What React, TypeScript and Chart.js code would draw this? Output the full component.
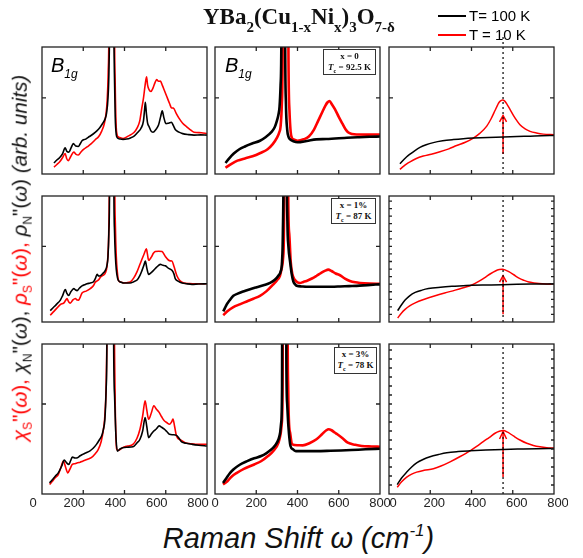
import React, { useEffect, useRef } from "react";
import { Chart, registerables } from "chart.js";

Chart.register(...registerables);

type Pt = [number, number];

// ---------- data (x: Raman shift in cm^-1, y: intensity in % of panel height) ----------
const r1c1Black: Pt[] = [[58, 8.7], [72, 11], [85, 12.8], [100, 16], [112, 20.6], [120, 18], [130, 17.2], [142, 21], [152, 23.9], [164, 22], [176, 21.7], [186, 24], [194, 26.2], [212, 27.5], [230, 29.5], [248, 31.5], [266, 34], [280, 36.5], [293, 39.6], [305, 43], [313, 48], [320, 60], [325, 85], [329, 150], [333, 400], [343, 400], [347, 150], [351, 80], [355, 45], [360, 31], [366, 28.4], [380, 27.5], [393, 27.3], [410, 27.5], [429, 28.4], [448, 30], [465, 32.9], [480, 36], [492, 41.8], [497, 50], [501, 56.4], [506, 48], [512, 40], [519, 37.4], [528, 34], [538, 32.9], [552, 35], [565, 38.5], [575, 45], [583, 49.7], [590, 45], [601, 39.6], [614, 40], [628, 40.7], [637, 38], [646, 35.1], [664, 33], [682, 31.8], [710, 31], [737, 30.6], [770, 30.8], [800, 30.6]];
const r1c1Red: Pt[] = [[58, 5.4], [72, 7.5], [85, 9.4], [100, 13], [112, 16.1], [120, 12], [127, 10.5], [140, 14], [154, 17.2], [165, 15.5], [176, 15], [190, 17.5], [203, 19.5], [220, 21.5], [239, 23.9], [258, 27], [275, 29.5], [290, 34], [302, 39.6], [310, 47], [316, 58], [321, 80], [325, 130], [329, 400], [347, 400], [351, 130], [355, 70], [359, 40], [364, 31], [368, 29.5], [380, 28.5], [393, 28], [420, 30], [447, 32.9], [462, 36.5], [474, 41.8], [484, 52], [492, 59.7], [500, 70], [507, 76.5], [512, 70], [519, 66.4], [528, 65], [538, 67.6], [548, 72], [556, 74.3], [565, 73], [574, 73.2], [583, 70], [592, 66.4], [605, 61], [619, 55.3], [628, 52], [637, 51.9], [650, 48], [664, 44], [682, 40], [700, 37.4], [718, 35], [737, 32.9], [773, 32.5], [800, 31.8]];

const r1c2Black: Pt[] = [[51, 8.7], [70, 12.5], [91, 16.1], [118, 19.5], [145, 21.7], [180, 24], [218, 26.2], [245, 29], [273, 32.9], [290, 37], [300, 41.8], [308, 47], [313, 53], [318, 70], [322, 110], [326, 400], [336, 400], [340, 110], [344, 55], [350, 35], [357, 29], [364, 27.3], [380, 25.8], [400, 25], [445, 26], [491, 27.3], [540, 27.5], [582, 28], [640, 28.5], [691, 28.9], [750, 29.3], [800, 29.5]];
const r1c2Red: Pt[] = [[51, 4.9], [80, 8], [109, 10.5], [145, 12.3], [182, 13.9], [220, 16.5], [255, 19.5], [280, 23.5], [300, 28.4], [312, 33], [318, 37.4], [324, 55], [328, 100], [332, 400], [352, 400], [356, 100], [361, 50], [367, 33], [373, 28.4], [385, 27], [400, 26.2], [430, 27.3], [455, 29.5], [480, 35], [500, 41.8], [518, 48], [536, 54.1], [546, 56.5], [555, 57.5], [568, 54.5], [582, 50.8], [600, 45], [618, 39.6], [632, 35.5], [645, 32.9], [665, 31.5], [691, 31.1], [740, 31], [800, 31.1]];

const r1c3Black: Pt[] = [[53, 8], [70, 11], [86, 13.6], [102, 15.7], [126, 18.5], [150, 20.9], [180, 23], [215, 24.7], [260, 26.1], [312, 27.1], [360, 27.8], [409, 28.3], [480, 28.8], [554, 29.1], [620, 29.5], [684, 29.8], [740, 30.1], [800, 30.3]];
const r1c3Red: Pt[] = [[53, 3.6], [70, 6], [86, 8], [102, 9.6], [130, 12], [166, 14.1], [205, 15.6], [247, 17.5], [290, 19.8], [328, 22.4], [370, 25], [409, 28.3], [440, 32], [474, 37.7], [495, 43.5], [514, 50], [527, 54.5], [535, 56.7], [545, 58], [551, 58.3], [560, 57.6], [571, 55.2], [586, 51], [603, 46.2], [620, 42], [635, 38.8], [660, 35.5], [684, 33.6], [715, 32.3], [748, 31.4], [800, 30.9]];

const r2c1Black: Pt[] = [[40, 9], [55, 11.5], [70, 14], [89, 17.4], [100, 21], [113, 25.8], [120, 23], [129, 21], [140, 24], [154, 26.5], [162, 25.5], [170, 24.9], [182, 27], [194, 28.7], [206, 29.5], [218, 30.3], [234, 31], [250, 32], [260, 35], [267, 37.8], [275, 36.5], [283, 36.7], [295, 38.5], [307, 41], [315, 45], [320, 52], [324, 70], [328, 120], [332, 400], [344, 400], [348, 120], [352, 70], [356, 52], [360, 42], [366, 35], [372, 32.6], [385, 31.5], [396, 31], [410, 31], [428, 31], [445, 32], [461, 33.3], [475, 37], [485, 41], [494, 45], [501, 48.4], [508, 43], [517, 37.8], [528, 39], [541, 41], [556, 43.5], [574, 45.7], [586, 45], [598, 44.6], [614, 42.5], [630, 41], [640, 38], [646, 34.4], [660, 32.5], [679, 31], [700, 30.4], [727, 29.9], [760, 30.2], [800, 30.3]];
const r2c1Red: Pt[] = [[40, 5.4], [55, 8], [72, 11], [90, 14], [105, 15], [114, 17], [121, 18.6], [129, 16], [137, 15], [150, 17.5], [162, 18.6], [170, 17.5], [178, 17.4], [186, 20], [194, 23], [214, 24.5], [234, 26.5], [250, 29], [258, 31.5], [267, 32.6], [275, 33.5], [283, 35.5], [295, 37], [307, 38.9], [315, 44], [320, 54], [324, 75], [327, 130], [330, 400], [348, 400], [352, 130], [356, 75], [360, 52.5], [365, 40], [372, 32.6], [385, 31.5], [396, 31], [410, 31.2], [428, 31.7], [445, 35], [461, 40], [473, 45], [485, 50], [495, 54], [506, 58], [511, 54], [517, 49], [530, 51.5], [540, 54.5], [549, 55.9], [566, 56.2], [582, 55.9], [598, 52], [614, 49], [622, 48.5], [630, 48.4], [640, 44], [654, 36.7], [668, 33], [687, 31], [715, 30.5], [743, 30.3], [800, 30.3]];

const r2c2Black: Pt[] = [[40, 8.4], [48, 11], [57, 14], [70, 17], [89, 20.8], [110, 22.5], [137, 24.2], [170, 26], [202, 27.6], [235, 29.2], [267, 31], [290, 33.5], [307, 36.7], [318, 40], [325, 48], [329, 70], [333, 150], [336, 400], [344, 400], [347, 150], [351, 80], [356, 60], [364, 48], [372, 38], [380, 32], [388, 30], [396, 28.7], [420, 28.2], [444, 28], [490, 28], [525, 28], [565, 28], [606, 28.2], [650, 28.5], [687, 28.7], [740, 29.3], [800, 29.9]];
const r2c2Red: Pt[] = [[40, 5.4], [60, 8.5], [89, 11.8], [120, 14], [154, 16.3], [186, 18.5], [218, 20.8], [250, 24.5], [283, 29.9], [300, 33], [315, 36.7], [324, 43], [331, 52.5], [335, 90], [339, 400], [351, 400], [355, 100], [360, 70], [367, 48], [375, 38], [388, 33.3], [400, 31.5], [412, 31], [428, 31.8], [444, 32.6], [470, 34.5], [493, 36.7], [515, 39], [535, 40.8], [549, 41.6], [565, 40.5], [585, 38.5], [606, 37.1], [630, 34.5], [654, 32.6], [680, 31.5], [703, 31], [750, 30.5], [800, 30.3]];

const r2c3Black: Pt[] = [[42, 9], [60, 13.5], [78, 17.4], [100, 20.8], [127, 23.5], [160, 25.3], [191, 26.5], [250, 27.6], [305, 28.3], [360, 28.8], [402, 29.2], [480, 29.4], [549, 29.6], [620, 29.9], [700, 30.1], [800, 30.3]];
const r2c3Red: Pt[] = [[42, 3.2], [60, 7], [78, 10], [100, 12.8], [127, 15.2], [175, 18.2], [224, 20.8], [270, 23], [321, 25.3], [360, 27.2], [402, 29.4], [435, 32.2], [467, 35.5], [492, 38.3], [516, 40.5], [535, 41.6], [549, 41.9], [565, 41.2], [581, 40], [605, 37.5], [630, 34.8], [655, 33], [678, 31.7], [703, 31], [727, 30.5], [760, 30.1], [800, 29.9]];

const r3c1Black: Pt[] = [[37, 7.4], [50, 9.5], [65, 12], [79, 14.1], [95, 18.5], [108, 22.6], [118, 21], [130, 19.7], [138, 22], [147, 24.6], [160, 24], [172, 24.2], [185, 25.5], [197, 26.4], [214, 27.5], [231, 28.6], [248, 30.5], [264, 33.1], [280, 36.5], [290, 39], [298, 43.2], [305, 50], [311, 70], [315, 110], [319, 400], [343, 400], [347, 110], [352, 65], [358, 40], [365, 28.6], [378, 30], [391, 30.9], [415, 31.2], [441, 31.5], [460, 34], [475, 36.5], [488, 42], [500, 51], [508, 45], [517, 37.6], [530, 40], [542, 42], [555, 43.5], [568, 45.4], [580, 44.5], [593, 43.2], [606, 41.5], [618, 39.8], [635, 39.5], [652, 39.1], [665, 37], [677, 34.7], [700, 33.8], [728, 33.1], [760, 32.5], [800, 32]];
const r3c1Red: Pt[] = [[37, 6.3], [50, 8.5], [65, 11], [79, 13], [90, 17], [104, 21.9], [114, 18], [125, 14.1], [135, 16.5], [147, 19.7], [160, 20.2], [172, 20.8], [185, 21.2], [197, 21.9], [218, 23], [239, 24.2], [256, 26.5], [273, 29.8], [287, 35], [298, 43.2], [306, 55], [312, 80], [316, 140], [320, 400], [346, 400], [350, 140], [354, 70], [358, 40], [362, 30], [370, 29], [391, 30.9], [415, 32], [441, 33.1], [460, 37], [475, 43.2], [488, 52], [500, 62.2], [508, 56], [517, 49.9], [530, 54], [542, 58.8], [555, 56.5], [568, 54.4], [580, 51.5], [593, 48.8], [606, 47.5], [618, 46.5], [628, 48], [635, 49.9], [643, 45], [652, 38.7], [672, 36], [694, 34.2], [720, 33.5], [744, 33.1], [770, 33.2], [800, 33.1]];

const r3c2Black: Pt[] = [[39, 7.4], [55, 10.5], [70, 13.5], [89, 16.3], [120, 19.5], [156, 21.9], [190, 23.8], [224, 25.3], [250, 27.3], [274, 29.8], [292, 32.5], [308, 36.5], [316, 41], [321, 47.7], [325, 70], [328, 400], [342, 400], [346, 90], [350, 60], [356, 45], [366, 32], [378, 29.8], [392, 28.6], [430, 28.6], [492, 28.6], [560, 28.8], [610, 29], [661, 29.3], [730, 29.8], [800, 30.2]];
const r3c2Red: Pt[] = [[39, 6.3], [60, 8.5], [80, 11.5], [106, 14.1], [140, 16.8], [190, 19.7], [225, 22], [257, 25.3], [285, 29], [308, 34.2], [318, 40], [324, 47.7], [328, 80], [331, 400], [349, 400], [352, 120], [355, 70], [358, 50], [365, 40], [375, 33.1], [400, 32.5], [425, 32.4], [460, 34], [492, 36.5], [520, 40], [540, 42.5], [551, 43.2], [565, 42.5], [580, 41], [593, 39.8], [620, 37], [644, 34.2], [680, 32.8], [712, 32], [760, 31.7], [800, 31.5]];

const r3c3Black: Pt[] = [[40, 6.3], [60, 10.5], [86, 14.6], [110, 18], [134, 20.7], [165, 23], [199, 24.8], [240, 26.3], [280, 27.5], [335, 28.3], [393, 28.8], [470, 29.3], [554, 29.7], [650, 30], [720, 30.2], [800, 30.4]];
const r3c3Red: Pt[] = [[40, 4.5], [60, 8], [86, 11.3], [110, 13.3], [134, 14.6], [170, 15.8], [215, 16.9], [255, 18.8], [296, 21.4], [345, 25], [393, 28.8], [425, 31.7], [457, 34.9], [487, 37.8], [514, 40.5], [535, 41.8], [554, 42.3], [575, 41.2], [603, 38.7], [635, 36], [668, 33.8], [700, 32.4], [732, 31.5], [765, 30.9], [800, 30.6]];

// gap energy marker and arrows in the model column
const gapEnergy = 553;
const arrowFrom = [15.7, 6.1, 11.3];
const arrowTo = [46, 36.7, 41.7];

// ticks
const xTickValues = [0, 200, 400, 600, 800];
const xInnerTicks = [200, 400, 600];
const yMajorTicks = [60];
const yMinorTicks = [6, 12, 18, 24, 30, 36, 42, 48, 54, 60, 66, 72, 78, 84, 90, 96];

// sample info
const dopingLabels = ["x = 0", "x = 1%", "x = 3%"];
const tcLabels = ["92.5 K", "87 K", "78 K"];

const PANEL_SERIES: Pt[][][][] = [
  [[r1c1Black, r1c1Red], [r1c2Black, r1c2Red], [r1c3Black, r1c3Red]],
  [[r2c1Black, r2c1Red], [r2c2Black, r2c2Red], [r2c3Black, r2c3Red]],
  [[r3c1Black, r3c1Red], [r3c2Black, r3c2Red], [r3c3Black, r3c3Red]],
];

// ---------- layout ----------
const COL_L = [42, 215, 389];
const COL_R = [207, 380, 554];
const ROW_T = [47, 196, 344];
const ROW_B = [196, 344, 494];
const LABEL_SHIFT = [-9, 0, 4];
const RED = "#ff0000";
const SANS = '"Liberation Sans", Arial, Helvetica, sans-serif';
const SERIF = '"Liberation Serif", "Times New Roman", serif';

const framePlugin = {
  id: "panelFrame",
  afterDatasetsDraw(chart: any, _args: any, opts: any) {
    const { ctx, chartArea: a } = chart;
    const xs = chart.scales.x;
    const ys = chart.scales.y;
    ctx.save();
    ctx.strokeStyle = "#222";
    ctx.lineWidth = 1.3;
    ctx.beginPath();
    for (const v of xInnerTicks) {
      const px = xs.getPixelForValue(v);
      ctx.moveTo(px, a.top);
      ctx.lineTo(px, a.top + 4);
      ctx.moveTo(px, a.bottom);
      ctx.lineTo(px, a.bottom - 4);
    }
    const yv = opts && opts.minor ? yMinorTicks : yMajorTicks;
    const len = opts && opts.minor ? 3 : 4;
    for (const v of yv) {
      const py = ys.getPixelForValue(v);
      ctx.moveTo(a.left, py);
      ctx.lineTo(a.left + len, py);
      ctx.moveTo(a.right, py);
      ctx.lineTo(a.right - len, py);
    }
    ctx.stroke();
    ctx.strokeRect(a.left, a.top, a.right - a.left, a.bottom - a.top);
    ctx.restore();
  },
};

const toXY = (pts: Pt[]) => pts.map(([x, y]) => ({ x, y }));

function Panel({ row, col }: { row: number; col: number }) {
  const ref = useRef<HTMLCanvasElement | null>(null);
  const padL = 14;
  const padR = 14;
  const padT = 14;
  const bottomRow = row === 2;
  const axisH = 22;
  const padB = bottomRow ? 4 : 14;
  const areaW = COL_R[col] - COL_L[col];
  const areaH = ROW_B[row] - ROW_T[row];
  const width = areaW + padL + padR;
  const height = areaH + padT + padB + (bottomRow ? axisH : 0);

  useEffect(() => {
    if (!ref.current) return;
    const [black, red] = PANEL_SERIES[row][col];
    const lw = col === 1 ? 2.6 : col === 0 ? 1.6 : 1.5;
    const datasets: any[] = [];
    if (col === 2) {
      datasets.push({
        data: [{ x: gapEnergy, y: 0 }, { x: gapEnergy, y: row === 0 ? 109.5 : 100 }],
        borderColor: "#000",
        borderWidth: 1.2,
        borderDash: [2, 3],
        clip: false,
      });
    }
    datasets.push({
      data: toXY(black),
      borderColor: "#000",
      borderWidth: lw,
      cubicInterpolationMode: "monotone",
      clip: 0,
    });
    datasets.push({
      data: toXY(red),
      borderColor: RED,
      borderWidth: lw,
      cubicInterpolationMode: "monotone",
      clip: 0,
    });
    if (col === 2) {
      datasets.push({
        data: [{ x: gapEnergy, y: arrowFrom[row] }, { x: gapEnergy, y: arrowTo[row] }],
        borderColor: RED,
        borderWidth: 1.5,
      });
      datasets.push({
        data: [
          { x: gapEnergy - 17, y: arrowTo[row] - 5 },
          { x: gapEnergy, y: arrowTo[row] },
          { x: gapEnergy + 17, y: arrowTo[row] - 5 },
        ],
        borderColor: RED,
        borderWidth: 1.5,
      });
    }

    const chart = new Chart(ref.current, {
      type: "line",
      data: { datasets },
      plugins: [framePlugin],
      options: {
        animation: false,
        responsive: false,
        devicePixelRatio: 1,
        events: [],
        layout: { padding: { left: padL, right: padR, top: padT, bottom: padB } },
        elements: { point: { radius: 0 }, line: { tension: 0 } },
        scales: {
          x: {
            type: "linear",
            min: 0,
            max: 800,
            display: bottomRow,
            grid: { display: false, drawTicks: false },
            border: { display: false },
            afterBuildTicks: (s: any) => {
              s.ticks = xTickValues.map((v) => ({ value: v }));
            },
            afterFit: (s: any) => {
              s.height = axisH;
            },
            ticks: {
              autoSkip: false,
              maxRotation: 0,
              minRotation: 0,
              padding: 2,
              labelOffset: LABEL_SHIFT[col],
              color: "#222",
              font: { family: SANS, size: 13 },
            },
          },
          y: { type: "linear", min: 0, max: 100, display: false },
        },
        plugins: {
          legend: { display: false },
          tooltip: { enabled: false },
          panelFrame: { minor: col === 2 && row > 0 },
        } as any,
      },
    } as any);
    return () => chart.destroy();
  }, [row, col]);

  return (
    <canvas
      ref={ref}
      width={width}
      height={height}
      style={{ position: "absolute", left: COL_L[col] - padL, top: ROW_T[row] - padT, width, height }}
    />
  );
}

function InfoBox({ row }: { row: number }) {
  const boxes = [
    { left: 323, top: 49, width: 53, height: 26 },
    { left: 331, top: 198, width: 45, height: 26 },
    { left: 334, top: 347, width: 43, height: 27 },
  ];
  const b = boxes[row];
  return (
    <div
      style={{
        position: "absolute",
        left: b.left,
        top: b.top,
        width: b.width,
        height: b.height,
        boxSizing: "border-box",
        border: "1px solid #333",
        background: "#fff",
        font: `bold 9px ${SERIF}`,
        lineHeight: "11px",
        textAlign: "center",
        paddingTop: 1,
        color: "#111",
        whiteSpace: "nowrap",
      }}
    >
      <div>{dopingLabels[row]}</div>
      <div>
        <i>T</i>
        <span style={{ fontSize: 6, verticalAlign: -3, lineHeight: 0 }}>c</span> = {tcLabels[row]}
      </div>
    </div>
  );
}

function B1g({ left, top }: { left: number; top: number }) {
  return (
    <div style={{ position: "absolute", left, top, font: `italic 20px ${SANS}`, lineHeight: 1, whiteSpace: "nowrap" }}>
      B<span style={{ fontSize: 12, verticalAlign: -6, lineHeight: 0 }}>1g</span>
    </div>
  );
}

const subT: React.CSSProperties = { fontSize: 15, verticalAlign: -8, lineHeight: 0 };
const subY: React.CSSProperties = { fontSize: 12, verticalAlign: -5, lineHeight: 0, fontStyle: "normal" };

export default function App() {
  const panels = [];
  for (let r = 0; r < 3; r++) for (let c = 0; c < 3; c++) panels.push(<Panel key={`${r}-${c}`} row={r} col={c} />);
  return (
    <div style={{ position: "fixed", left: 0, top: 0, width: 583, height: 558, background: "#fff", overflow: "hidden" }}>
      {panels}
      {/* title */}
      <div style={{ position: "absolute", left: 203, top: 5, font: `bold 23px ${SERIF}`, lineHeight: 1, whiteSpace: "nowrap", color: "#111" }}>
        YBa<span style={subT}>2</span>(Cu<span style={subT}>1-x</span>Ni<span style={subT}>x</span>)<span style={subT}>3</span>O
        <span style={subT}>7-δ</span>
      </div>
      {/* legend */}
      <div style={{ position: "absolute", left: 438, top: 15, width: 28, borderTop: "2px solid #000" }} />
      <div style={{ position: "absolute", left: 469, top: 8, font: `15px ${SANS}`, lineHeight: 1, whiteSpace: "nowrap" }}>T= 100 K</div>
      <div style={{ position: "absolute", left: 438, top: 34, width: 28, borderTop: `2px solid ${RED}` }} />
      <div style={{ position: "absolute", left: 469, top: 27, font: `15px ${SANS}`, lineHeight: 1, whiteSpace: "nowrap" }}>T = 10 K</div>
      {/* B1g labels */}
      <B1g left={51} top={55} />
      <B1g left={225} top={55} />
      {/* sample boxes */}
      <InfoBox row={0} />
      <InfoBox row={1} />
      <InfoBox row={2} />
      {/* y label */}
      <div
        style={{
          position: "absolute",
          left: 20,
          top: 258,
          transform: "translate(-50%, -50%) rotate(-90deg)",
          whiteSpace: "nowrap",
          font: `20.6px ${SANS}`,
          lineHeight: 1,
          color: "#111",
        }}
      >
        <span style={{ color: RED }}>
          <i>χ</i>
          <span style={subY}>S</span>"(<i>ω</i>),
        </span>{" "}
        <i>χ</i>
        <span style={subY}>N</span>"(<i>ω</i>),{" "}
        <span style={{ color: RED }}>
          <i>ρ</i>
          <span style={subY}>S</span>"(<i>ω</i>),
        </span>{" "}
        <i>ρ</i>
        <span style={subY}>N</span>"(<i>ω</i>) <i>(arb. units)</i>
      </div>
      {/* x label */}
      <div
        style={{
          position: "absolute",
          left: 0,
          width: 597,
          top: 524,
          textAlign: "center",
          font: `italic 29px ${SANS}`,
          lineHeight: 1,
          whiteSpace: "nowrap",
          color: "#111",
        }}
      >
        Raman Shift <span>ω</span> (cm<span style={{ fontSize: 17, verticalAlign: 12, lineHeight: 0 }}>-1</span>)
      </div>
    </div>
  );
}
